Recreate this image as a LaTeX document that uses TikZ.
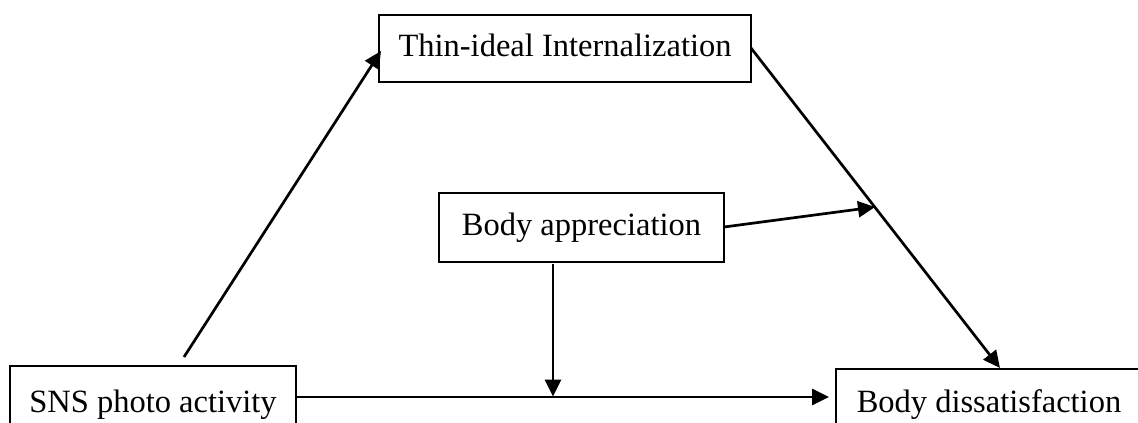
\documentclass[tikz,border=0pt]{standalone}
\usepackage{fontspec}
\setmainfont{Liberation Serif}
\usetikzlibrary{arrows.meta}
\begin{document}
\begin{tikzpicture}[x=1pt,y=-1pt,
  box/.style={draw=black, line width=1.5pt, rectangle, inner sep=0pt,
    font=\fontsize{32.5}{38}\selectfont, text height=22pt, text depth=7pt},
  conn/.style={line width=2.7pt, -{Triangle[length=17pt,width=16pt]}}]
\useasboundingbox (0,0) rectangle (1138,423);
\clip (0,0) rectangle (1138,423);
\node[box, minimum width=372pt, minimum height=67pt] (thin) at (565,48.5) {Thin-ideal Internalization};
\node[box, minimum width=285pt, minimum height=69pt] (app) at (581.5,227.5) {Body appreciation};
\node[box, minimum width=286pt, minimum height=77pt] (sns) at (153,404.5) {SNS photo activity};
\node[box, minimum width=306pt, minimum height=71pt] (dis) at (989,404.5) {Body dissatisfaction};
\coordinate (s1) at (184,357);
\coordinate (t1) at (381,51);
\coordinate (t2) at (751,48);
\coordinate (d1) at (1000,368);
\coordinate (m1) at (875,207);
\coordinate (a1) at (724,227);
\coordinate (a2) at (553,264);
\coordinate (h1) at (553,396.5);
\coordinate (sr) at (sns.east |- 0,397);
\coordinate (dl) at (829,397);
\draw[conn] (s1) -- (t1);
\draw[conn] (t2) -- (d1);
\draw[conn] (a1) -- (m1);
\draw[conn] (a2) -- (h1);
\draw[conn] (sr) -- (dl);
\end{tikzpicture}
\end{document}
